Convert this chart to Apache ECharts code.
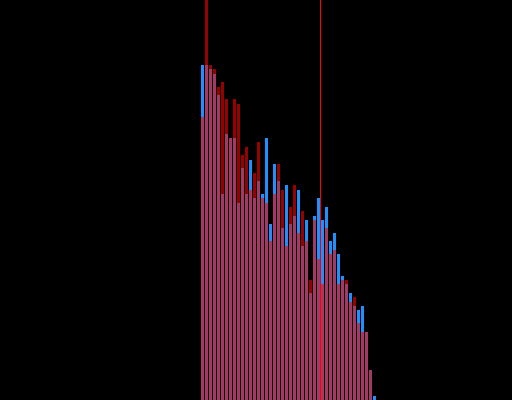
<!DOCTYPE html>
<html>
<head>
<meta charset="utf-8">
<script src="https://cdn.jsdelivr.net/npm/echarts@6/dist/echarts.min.js"></script>
<style>html,body{margin:0;padding:0;background:#000;}#c{width:512px;height:400px;}</style>
</head>
<body>
<div id="c"></div>
<script>
// bin index (x value) for each histogram bar
const bins = [0,1,2,3,4,5,6,7,8,9,10,11,12,13,14,15,16,17,18,19,20,21,22,23,24,25,26,27,28,29,30,31,32,33,34,35,36,37,38,39,40,41,42,43];
// counts of the blue distribution
const blueCounts = [335,335,331,326,305,206,266,262,262,197,232,206,240,202,219,206,262,176,236,219,172,215,176,184,210,154,180,107,184,202,180,193,159,167,146,124,116,107,94,90,94,68,30,4];
// counts of the red distribution (bin 1 runs off the top)
const redCounts = [283,600,335,331,313,318,301,262,301,296,245,253,210,227,258,202,197,159,206,236,210,154,193,215,167,189,159,120,180,141,116,172,146,150,116,120,120,98,103,77,68,68,30,0];
// reference marker position
const markerX = 29.5;

const chart = echarts.init(document.getElementById('c'));
chart.setOption({
  backgroundColor: '#000000',
  animation: false,
  grid: {left: 0, right: 0, top: 0, bottom: 0},
  xAxis: {type: 'value', min: -50.625, max: 77.375, show: false},
  yAxis: {type: 'value', min: 0, max: 400, show: false},
  series: [
    {
      type: 'bar', name: 'blue', barWidth: 3, barGap: '-100%',
      itemStyle: {color: '#1e90ff'},
      data: bins.map((b, i) => [b, blueCounts[i]])
    },
    {
      type: 'bar', name: 'red', barWidth: 3, barGap: '-100%',
      itemStyle: {color: '#ff0000', opacity: 0.6},
      data: bins.map((b, i) => [b, redCounts[i]]),
      markLine: {
        silent: true, symbol: ['none', 'none'], label: {show: false},
        lineStyle: {color: '#ff0000', width: 1, type: 'solid', opacity: 1},
        data: [{xAxis: markerX}]
      }
    }
  ]
});
</script>
</body>
</html>
